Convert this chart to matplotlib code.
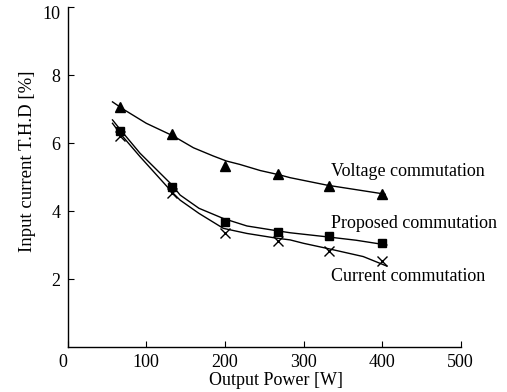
import matplotlib
matplotlib.use("Agg")
import matplotlib.pyplot as plt
from matplotlib.transforms import ScaledTranslation

plt.rcParams['font.family'] = ['Liberation Serif', 'DejaVu Serif']

# Measured points
x_pts = [66, 133, 200, 267, 333, 400]
voltage = [7.05, 6.26, 5.32, 5.09, 4.74, 4.49]
proposed = [6.36, 4.70, 3.69, 3.39, 3.26, 3.05]
current = [6.22, 4.52, 3.36, 3.13, 2.83, 2.54]

# Fitted curves
volt_cx = [57, 71, 100, 134, 160, 185, 202, 219, 245, 270, 283, 330, 397, 404]
volt_cy = [7.21, 6.99, 6.58, 6.21, 5.86, 5.62, 5.47, 5.37, 5.19, 5.06, 4.98, 4.76, 4.52, 4.49]
prop_cx = [57, 66, 92, 133, 143, 167, 198, 228, 266, 283, 330, 367, 406]
prop_cy = [6.68, 6.42, 5.70, 4.76, 4.47, 4.08, 3.78, 3.56, 3.42, 3.36, 3.24, 3.14, 3.00]
curr_cx = [57, 66, 92, 133, 143, 167, 198, 228, 266, 283, 300, 330, 376, 406]
curr_cy = [6.58, 6.30, 5.60, 4.55, 4.32, 3.93, 3.49, 3.34, 3.20, 3.15, 3.05, 2.90, 2.66, 2.38]

xticks = [0, 100, 200, 300, 400, 500]
yticks = [2, 4, 6, 8, 10]

FS = 13

fig = plt.figure(figsize=(5.07, 3.92), dpi=100)
ax = fig.add_axes([0.1335, 0.1148, 0.7752, 0.8673])

lc = 'black'
ax.plot(volt_cx, volt_cy, color=lc, lw=1.0)
ax.plot(prop_cx, prop_cy, color=lc, lw=1.0)
ax.plot(curr_cx, curr_cy, color=lc, lw=1.0)
ax.plot(x_pts, voltage, linestyle='none', marker='^', ms=7, color='black')
ax.plot(x_pts, proposed, linestyle='none', marker='s', ms=5.5, color='black')
ax.plot(x_pts, current, linestyle='none', marker='x', ms=7, mew=1.0, color='black')

ax.text(335, 5.16, 'Voltage commutation', fontsize=FS, va='center', ha='left')
ax.text(335, 3.64, 'Proposed commutation', fontsize=FS, va='center', ha='left')
ax.text(335, 2.07, 'Current commutation', fontsize=FS, va='center', ha='left')

ax.set_xlim(0, 500)
ax.set_ylim(0, 10)
ax.set_xticks(xticks)
ax.set_yticks(yticks)
ax.spines['top'].set_visible(False)
ax.spines['right'].set_visible(False)
for s in ['left', 'bottom']:
    ax.spines[s].set_linewidth(1.0)
ax.tick_params(direction='in', length=4, width=0.8, labelsize=FS, pad=5)

ax.set_xlabel('Output Power [W]', fontsize=FS)
ax.xaxis.set_label_coords(0.53, -0.075)
ax.set_ylabel('Input current T.H.D [%]', fontsize=13.5)
ax.yaxis.set_label_coords(-0.08, 0.545)

fig.canvas.draw()
xl = ax.get_xticklabels()
xl[0].set_transform(xl[0].get_transform() + ScaledTranslation(-5/100, 0, fig.dpi_scale_trans))
yl = ax.get_yticklabels()
yl[-1].set_transform(yl[-1].get_transform() + ScaledTranslation(0, -5/100, fig.dpi_scale_trans))

fig.savefig('out.png', dpi=100)
